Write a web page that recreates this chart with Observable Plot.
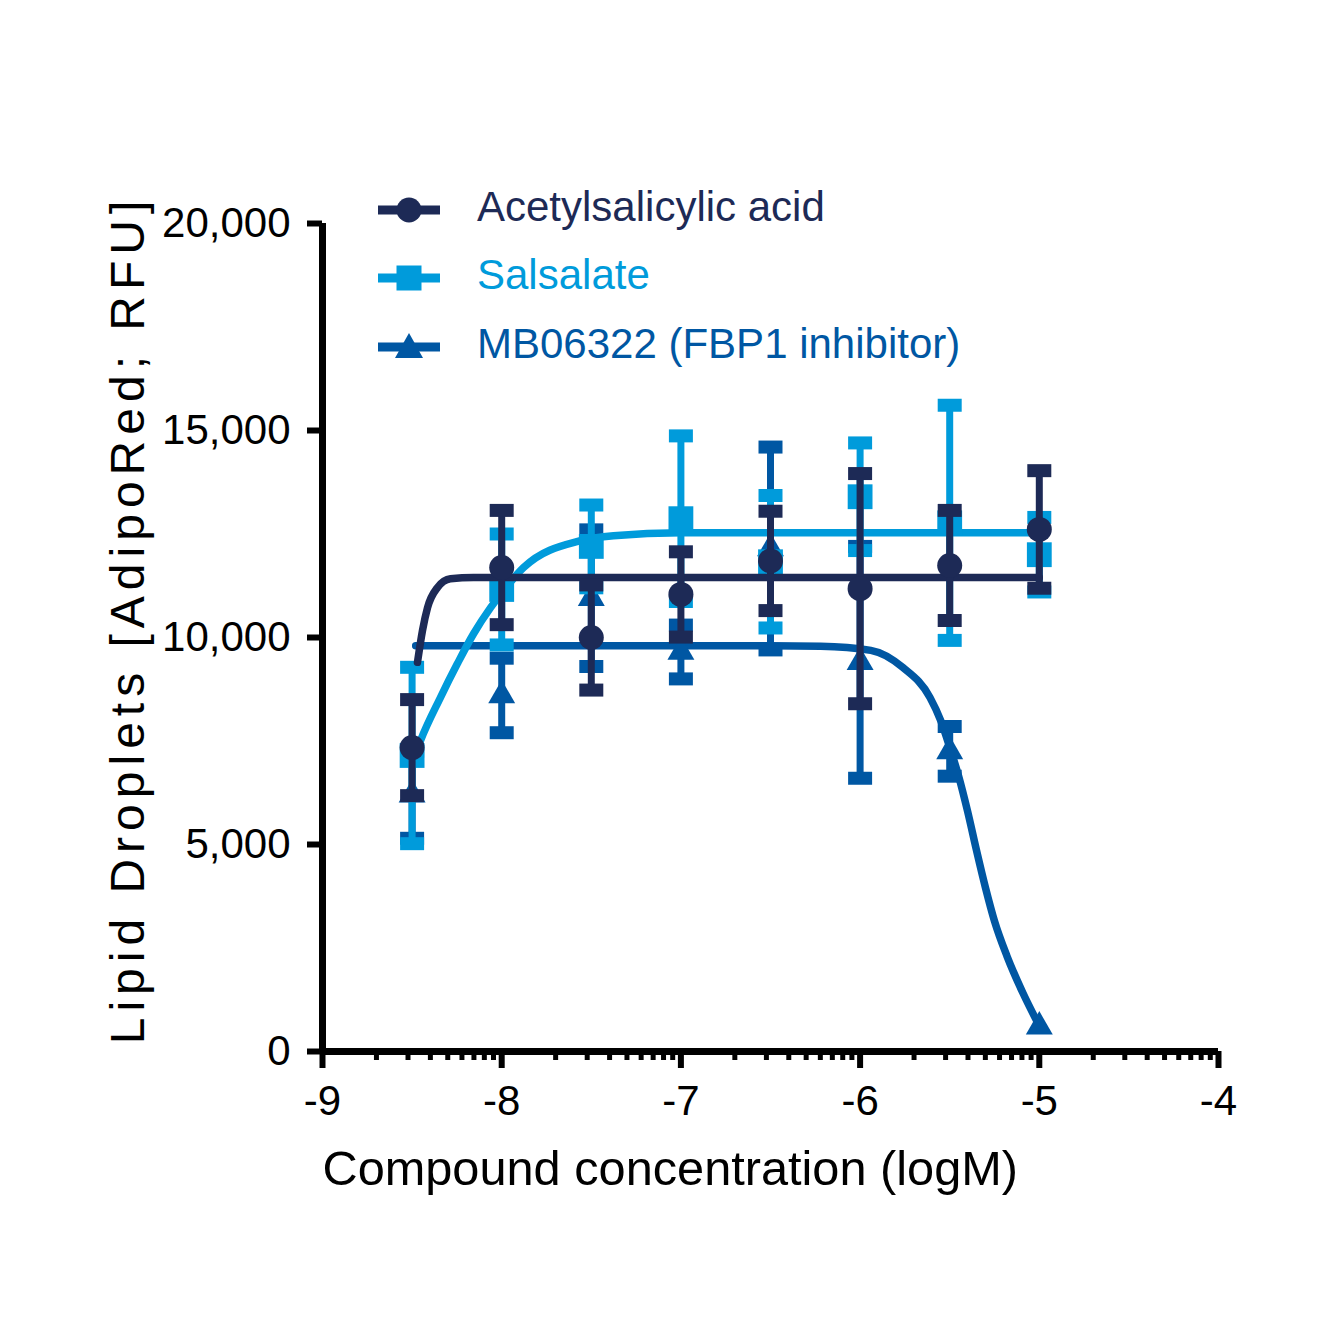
<!DOCTYPE html>
<html>
<head>
<meta charset="utf-8">
<script src="https://cdn.jsdelivr.net/npm/d3@7"></script>
<script src="https://cdn.jsdelivr.net/npm/@observablehq/plot@0.6"></script>
<style>
  body { margin: 0; background: #fff; }
  #wrap { position: relative; width: 1333px; height: 1333px; font-family: "Liberation Sans", Arial, sans-serif; }
  .row { position: absolute; left: 378px; height: 42px; display: flex; align-items: center;
         font-size: 42px; line-height: 42px; white-space: nowrap; }
  .row svg { margin-right: 37px; flex: none; }
</style>
</head>
<body>
<div id="wrap"></div>
<script>
// ---- data ----
const concentrations = [-8.5, -8, -7.5, -7, -6.5, -6, -5.5, -5]; // log M

const aspirinMean = [7340, 11690, 10000, 11040, 11850, 11180, 11740, 12610];
const aspirinErr  = [1160, 1380, 1270, 1030, 1200, 2780, 1330, 1420];

const salsalateMean = [7150, 11160, 12200, 12870, 11830, 13400, 12770, 12000];
const salsalateErr  = [2130, 1340, 1000, 2000, 1600, 1300, 2840, 900];

const mbMean = [6200, 8600, 10950, 9650, 12150, 9400, 7250, 600];
const mbErr  = [1050, 900, 1650, 650, 2450, 2800, 600, 0];

// fitted curves
const aspirinFitX = [-8.47, -8.442, -8.414, -8.358, -8.286, -8.157, -7.5, -5];
const aspirinFitY = [9400, 10170, 10720, 11210, 11420, 11450, 11450, 11450];

const salsalateFitX = [-8.48, -8.453, -8.342, -8.247, -8.157, -8.062, -7.99, -7.878, -7.56, -7.376, -7.0, -6, -5];
const salsalateFitY = [7200, 7510, 8550, 9370, 10090, 10720, 11130, 11690, 12340, 12460, 12530, 12530, 12530];

const mbFitX = [-8.48, -7.0, -6.5, -6.22, -5.94, -5.76, -5.61, -5.55, -5.5, -5.45, -5.4, -5.35, -5.3, -5.25, -5.18, -5.09, -5.0];
const mbFitY = [9800, 9800, 9800, 9790, 9690, 9270, 8550, 7990, 7350, 6650, 5800, 4850, 3950, 3150, 2300, 1400, 620];

const seriesNames = ["Acetylsalicylic acid", "Salsalate", "MB06322 (FBP1 inhibitor)"];
const xTicks = [-9, -8, -7, -6, -5, -4];
const yTicks = [0, 5000, 10000, 15000, 20000];
const xTitle = "Compound concentration (logM)";
const yTitle = "Lipid Droplets [AdipoRed; RFU]";

// ---- styling ----
const navy = "#1d2a56", light = "#009bdb", mid = "#0057a3";

const series = [
  {name: seriesNames[2], color: mid,   symbol: "triangle", r: 10,   mean: mbMean,        err: mbErr,        fx: mbFitX,        fy: mbFitY},
  {name: seriesNames[1], color: light, symbol: "square",   r: 14,   mean: salsalateMean, err: salsalateErr, fx: salsalateFitX, fy: salsalateFitY},
  {name: seriesNames[0], color: navy,  symbol: "circle",   r: 12.5, mean: aspirinMean,   err: aspirinErr,   fx: aspirinFitX,   fy: aspirinFitY}
];

const capSymbol = {
  draw(ctx) { ctx.moveTo(-12, -6.5); ctx.lineTo(12, -6.5); ctx.lineTo(12, 6.5); ctx.lineTo(-12, 6.5); ctx.closePath(); }
};

const minorTicks = xTicks.slice(0, -1).flatMap(t => [2,3,4,5,6,7,8,9].map(k => t + Math.log10(k)));

const marks = [];
for (const s of series) {
  const pts = concentrations.map((x, i) => ({x, m: s.mean[i], e: s.err[i]}));
  const withErr = pts.filter(d => d.e > 0);
  const fit = s.fx.map((x, i) => ({x, y: s.fy[i]}));
  marks.push(
    Plot.line(fit, {x: "x", y: "y", stroke: s.color, strokeWidth: 7.5, curve: "monotone-x"}),
    Plot.ruleX(withErr, {x: "x", y1: d => d.m - d.e, y2: d => d.m + d.e, stroke: s.color, strokeWidth: 7}),
    Plot.dot(withErr, {x: "x", y: d => d.m + d.e, symbol: capSymbol, r: 1, fill: s.color, stroke: "none"}),
    Plot.dot(withErr, {x: "x", y: d => d.m - d.e, symbol: capSymbol, r: 1, fill: s.color, stroke: "none"}),
    Plot.dot(pts, {x: "x", y: "m", symbol: s.symbol, r: s.r, fill: s.color, stroke: "none"})
  );
}

const chart = Plot.plot({
  width: 1333,
  height: 1333,
  marginTop: 223,
  marginRight: 115,
  marginBottom: 282,
  marginLeft: 322,
  x: {domain: [-9, -4]},
  y: {domain: [0, 20000]},
  style: {fontFamily: '"Liberation Sans", Arial, sans-serif', background: "white", color: "black", fontSize: "42px"},
  marks: [
    Plot.axisY({ticks: yTicks, tickFormat: d3.format(","), tickSize: 15, tickPadding: 17, strokeWidth: 6, fontSize: 42, label: null}),
    Plot.axisX({ticks: xTicks, tickFormat: d => String(d), tickSize: 17, tickPadding: 17, strokeWidth: 6, fontSize: 42, label: null}),
    Plot.axisX({ticks: minorTicks, tickFormat: () => "", tickSize: 9, strokeWidth: 5, label: null}),
    Plot.ruleX([-9], {strokeWidth: 7}),
    Plot.ruleY([0], {strokeWidth: 7}),
    Plot.text([xTitle], {text: d => d, frameAnchor: "bottom-left", textAnchor: "start", lineAnchor: "top", dy: 99, fontSize: 48.7}),
    Plot.text([yTitle], {text: d => d, frameAnchor: "left", rotate: -90, textAnchor: "middle", lineAnchor: "bottom", dx: -179, dy: -18, fontSize: 48}),
    ...marks
  ]
});

chart.querySelectorAll("text").forEach(t => {
  if (t.textContent === yTitle) t.setAttribute("letter-spacing", "6");
});

const wrap = document.getElementById("wrap");
wrap.appendChild(chart);

// ---- legend (overlaid inside the plot area, as in the reference) ----
const legendItems = [
  {name: seriesNames[0], color: navy,  shape: "circle",   top: 186},
  {name: seriesNames[1], color: light, shape: "square",   top: 254},
  {name: seriesNames[2], color: mid,   shape: "triangle", top: 323}
];
for (const it of legendItems) {
  const row = document.createElement("div");
  row.className = "row";
  row.style.top = it.top + "px";
  row.style.color = it.color;
  let marker;
  if (it.shape === "circle") marker = `<circle cx="31" cy="24" r="12.5" fill="${it.color}"/>`;
  else if (it.shape === "square") marker = `<rect x="18.5" y="11.5" width="25" height="25" fill="${it.color}"/>`;
  else marker = `<path d="M31,10 L45,35 L17,35 Z" fill="${it.color}"/>`;
  row.innerHTML = `<svg width="62" height="42" viewBox="0 0 62 42" overflow="visible">
      <line x1="0" x2="62" y1="24" y2="24" stroke="${it.color}" stroke-width="9"/>${marker}</svg><span>${it.name}</span>`;
  wrap.appendChild(row);
}
</script>
</body>
</html>
